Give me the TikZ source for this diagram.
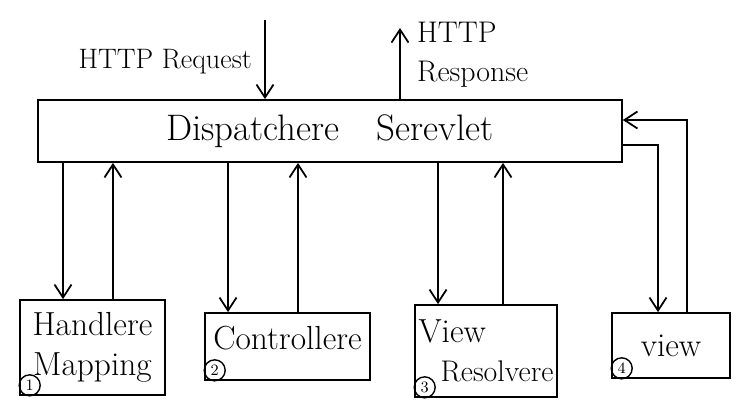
\documentclass[tikz,border=0pt]{standalone}
\usepackage{tikz}
\usetikzlibrary{arrows.meta, calc}

\begin{document}
\begin{tikzpicture}[
  x=0.02cm, y=-0.02cm,
  box/.style={rectangle, draw, line width=1pt, align=center,
              font=\fontsize{19}{23}\selectfont},
  num/.style={circle, draw, line width=0.8pt, inner sep=0pt,
              minimum size=0.42cm, font=\small},
  lbl/.style={align=left, font=\fontsize{16}{20}\selectfont},
  arrow/.style={-{Straight Barb[length=2.6mm, width=3.4mm]}, line width=1pt}
]
\useasboundingbox (0,0) rectangle (742,410);

%% ---- DISPATCHER (top) ----
\node[box, minimum width=11.68cm, minimum height=1.24cm,
      font=\fontsize{21}{25}\selectfont] at (330,131) (ds) {Dispatchere\quad Serevlet};

%% ---- HELPERS (bottom row) ----
\node[box, minimum width=2.9cm,  minimum height=1.9cm]  at (92.5,347.5) (hm)  {Handlere\\Mapping};
\node[box, minimum width=3.3cm,  minimum height=1.34cm] at (287.5,346.5) (ctl) {\raisebox{10pt}{Controllere}};
\node[box, minimum width=2.84cm, minimum height=1.84cm, align=left, inner xsep=2pt,
      font=\fontsize{17}{22}\selectfont] at (486,351) (vr) {\fontsize{19}{22}\selectfont View\\\hspace*{0.44cm}Resolvere};
\node[box, minimum width=2.36cm, minimum height=1.3cm]  at (671,345.5)  (vw)  {view};

%% ---- step numbers ----
\node[num, anchor=south west] at ([shift={(1.5pt,1.5pt)}]hm.south west)  (n1) {1};
\node[num, anchor=south west] at ([shift={(1.5pt,1.5pt)}]ctl.south west) (n2) {2};
\node[num, anchor=south west] at ([shift={(1.5pt,1.5pt)}]vr.south west)  (n3) {3};
\node[num, anchor=south west] at ([shift={(1.5pt,1.5pt)}]vw.south west)  (n4) {4};

%% ---- request / response ----
\coordinate (req) at (265,20);
\coordinate (resp) at (400,28);
\node[lbl, anchor=east] at (258,62) (reqlbl) {HTTP Request};
\node[lbl, anchor=west, font=\fontsize{17}{22}\selectfont] at (411,55) (resplbl) {HTTP\\Response};
\draw[arrow] (req) -- (req |- ds.north);
\draw[arrow] (resp |- ds.north) -- (resp);

%% ---- Arrows ----
\draw[arrow] ([xshift=-0.59cm]hm.north |- ds.south) -- ([xshift=-0.59cm]hm.north);
\draw[arrow] ([xshift=0.41cm]hm.north) -- ([xshift=0.41cm]hm.north |- ds.south);
\draw[arrow] ([xshift=-1.19cm]ctl.north |- ds.south) -- ([xshift=-1.19cm]ctl.north);
\draw[arrow] ([xshift=0.21cm]ctl.north) -- ([xshift=0.21cm]ctl.north |- ds.south);
\draw[arrow] ([xshift=-0.96cm]vr.north |- ds.south) -- ([xshift=-0.96cm]vr.north);
\draw[arrow] ([xshift=0.34cm]vr.north) -- ([xshift=0.34cm]vr.north |- ds.south);
\draw[arrow] ([yshift=-0.28cm]ds.east) -| ([xshift=-0.26cm]vw.north);
\draw[arrow] ([xshift=0.32cm]vw.north) |- ([yshift=0.22cm]ds.east);
\end{tikzpicture}
\end{document}
